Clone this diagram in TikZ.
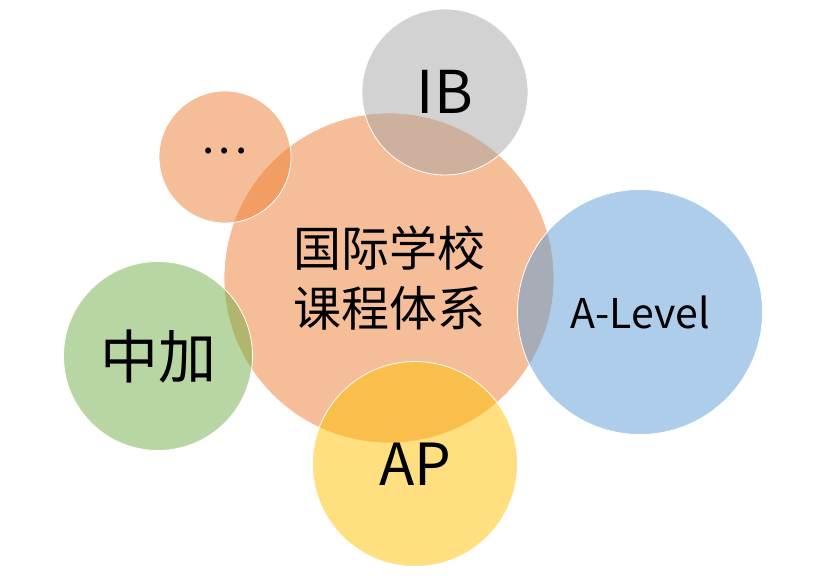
\documentclass[tikz,border=0pt]{standalone}
\usepackage{fontspec}
\setmainfont{Noto Sans CJK SC}
\usepackage{xcolor}
\definecolor{orangeA}{HTML}{ED7D31}
\definecolor{grayA}{HTML}{A5A5A5}
\definecolor{blueA}{HTML}{5B9BD5}
\definecolor{greenA}{HTML}{70AD47}
\definecolor{goldA}{HTML}{FFC000}
\begin{document}
\begin{tikzpicture}[x=1pt,y=-1pt,ball/.style={circle,draw=white,line width=0.8pt,fill opacity=0.5,text opacity=1,inner sep=0pt}]
\useasboundingbox (0,0) rectangle (830,586);
\node[ball,fill=orangeA,minimum size=330pt,align=center,font=\fontsize{48}{60}\selectfont] (core) at (389,278) {国际学校\\课程体系};
\node[ball,fill=orangeA,minimum size=132pt,font=\fontsize{44}{50}\selectfont] (more) at (225,157) {\raisebox{12pt}{.\kern4.5pt.\kern4.5pt.}};
\node[ball,fill=grayA,minimum size=166pt,font=\fontsize{59}{70}\selectfont] (ib) at (445,92) {IB};
\node[ball,fill=blueA,minimum size=245pt,font=\fontsize{41}{50}\selectfont] (alevel) at (640,312) {A-Level};
\node[ball,fill=greenA,minimum size=189pt,font=\fontsize{58}{70}\selectfont] (zhongjia) at (158,356) {中加};
\node[ball,fill=goldA,minimum size=205pt,font=\fontsize{58}{70}\selectfont] (ap) at (415,464) {AP};
\end{tikzpicture}
\end{document}
